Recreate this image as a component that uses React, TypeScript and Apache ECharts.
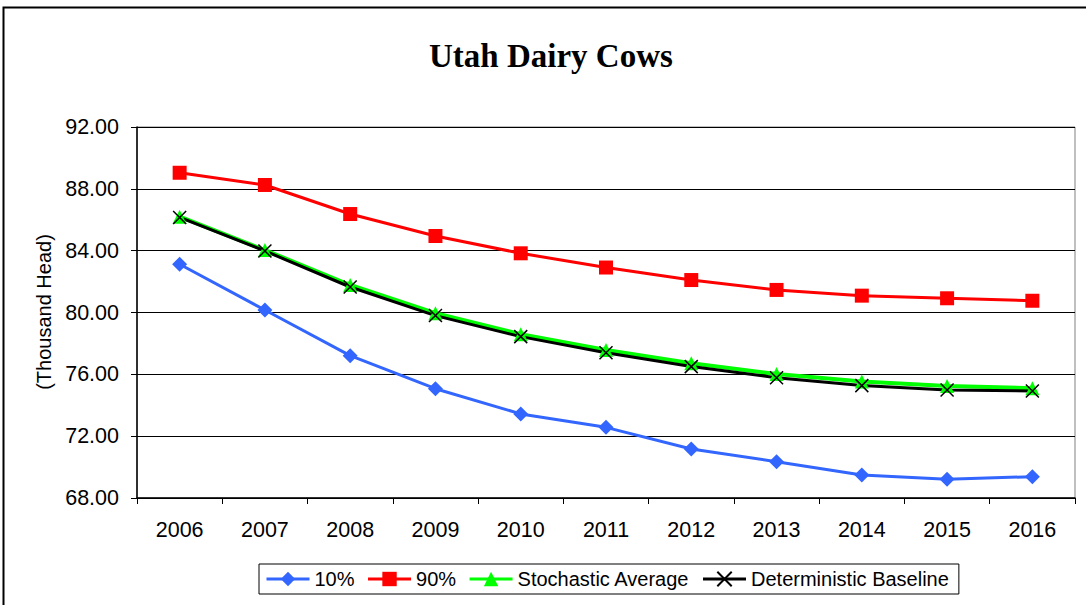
import React, { useEffect, useRef } from "react";
import * as echarts from "echarts";

const years = ["2006", "2007", "2008", "2009", "2010", "2011", "2012", "2013", "2014", "2015", "2016"];
const p10 = [83.12, 80.16, 77.21, 75.07, 73.44, 72.57, 71.17, 70.35, 69.49, 69.21, 69.38];
const p90 = [89.04, 88.25, 86.37, 84.95, 83.83, 82.91, 82.1, 81.46, 81.09, 80.92, 80.76];
const stochAvg = [86.2, 84.04, 81.78, 79.95, 78.59, 77.58, 76.72, 76.02, 75.53, 75.25, 75.1];
const detBase = [86.15, 83.98, 81.65, 79.8, 78.44, 77.4, 76.5, 75.78, 75.27, 74.99, 74.92];
const seriesNames = ["10%", "90%", "Stochastic Average", "Deterministic Baseline"];

const SANS = "'Liberation Sans', Arial, sans-serif";

export default function App() {
  const ref = useRef<HTMLDivElement>(null);
  useEffect(() => {
    if (!ref.current) return;
    const chart = echarts.init(ref.current, null, { renderer: "svg" });
    chart.setOption({
      animation: false,
      backgroundColor: "#fff",
      title: {
        text: "Utah Dairy Cows",
        left: 424,
        top: 34,
        textStyle: { fontFamily: "'Liberation Serif', 'Times New Roman', serif", fontWeight: "bold", fontSize: 33, color: "#000" },
      },
      graphic: [
        {
          type: "rect",
          shape: { x: 3.5, y: 7.5, width: 1095, height: 620 },
          style: { fill: "none", stroke: "#000", lineWidth: 2 },
          silent: true,
        },
        {
          type: "text",
          x: 44,
          y: 312,
          rotation: Math.PI / 2,
          style: {
            text: "(Thousand Head)",
            fontFamily: SANS,
            fontSize: 20,
            fill: "#000",
            align: "center",
            verticalAlign: "middle",
          },
        },
      ],
      grid: {
        left: 137,
        right: 11,
        top: 127,
        bottom: 107,
        show: true,
        borderColor: "#808080",
        borderWidth: 1,
        backgroundColor: "transparent",
      },
      legend: {
        left: 259,
        top: 564,
        padding: [5, 10, 5, 6],
        itemGap: 12,
        itemWidth: 43,
        itemHeight: 18,
        borderColor: "#000",
        borderWidth: 1,
        data: seriesNames,
        lineStyle: { width: 3 },
        textStyle: { fontFamily: SANS, fontSize: 20, color: "#000" },
      },
      xAxis: {
        type: "category",
        data: years,
        boundaryGap: true,
        axisLine: { lineStyle: { color: "#000", width: 1.5 } },
        axisTick: { show: true, length: 6, lineStyle: { color: "#000", width: 1 } },
        axisLabel: { fontFamily: SANS, fontSize: 21.5, color: "#000", margin: 21, lineHeight: 22 },
        splitLine: { show: false },
      },
      yAxis: {
        type: "value",
        min: 68,
        max: 92,
        interval: 4,
        axisLine: { show: true, lineStyle: { color: "#000", width: 1.5 } },
        axisTick: { show: true, length: 6, lineStyle: { color: "#000", width: 1 } },
        axisLabel: {
          fontFamily: SANS,
          fontSize: 21.5,
          color: "#000",
          margin: 18,
          formatter: (v: number) => v.toFixed(2),
        },
        splitLine: { show: true, lineStyle: { color: "#000", width: 1 } },
      },
      series: [
        {
          name: seriesNames[0],
          type: "line",
          data: p10,
          symbol: "diamond",
          symbolSize: 15,
          itemStyle: { color: "#3366FF" },
          lineStyle: { color: "#3366FF", width: 3 },
        },
        {
          name: seriesNames[1],
          type: "line",
          data: p90,
          symbol: "rect",
          symbolSize: 14,
          itemStyle: { color: "#FF0000" },
          lineStyle: { color: "#FF0000", width: 3 },
        },
        {
          name: seriesNames[2],
          type: "line",
          data: stochAvg,
          symbol: "triangle",
          symbolSize: 14,
          itemStyle: { color: "#00FF00" },
          lineStyle: { color: "#00FF00", width: 4 },
        },
        {
          name: seriesNames[3],
          type: "line",
          data: detBase,
          symbol: "path://M0,0L10,10M10,0L0,10",
          symbolSize: 13,
          itemStyle: { color: "#000", borderColor: "#000", borderWidth: 1.5 },
          lineStyle: { color: "#000", width: 3 },
        },
      ],
    });
    return () => chart.dispose();
  }, []);
  return (
    <div
      ref={ref}
      style={{ position: "absolute", left: 0, top: 0, width: 1086, height: 605 }}
    />
  );
}
